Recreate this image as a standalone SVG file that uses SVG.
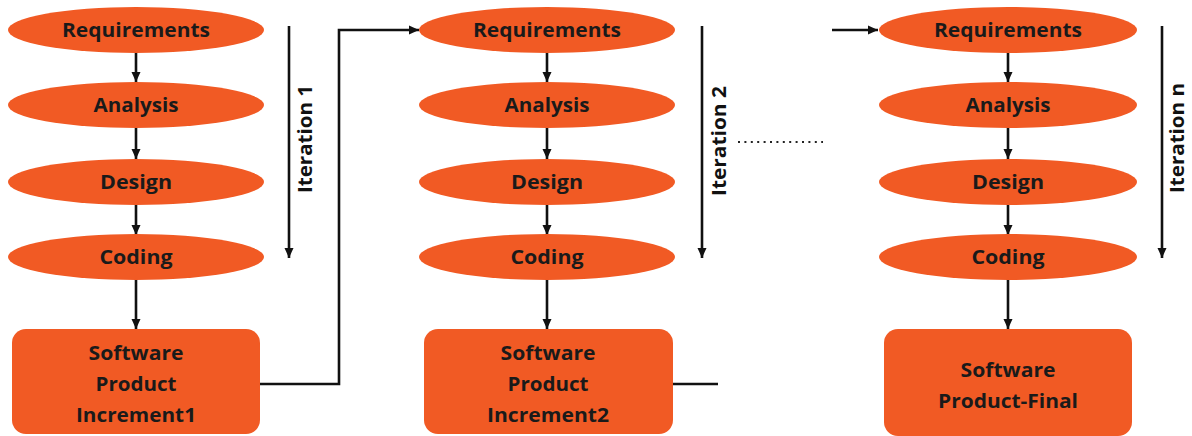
<svg xmlns="http://www.w3.org/2000/svg" width="1192" height="436" viewBox="0 0 1192 436">
<style>
.el{fill:#F15A24;}
.bx{fill:#F15A24;}
.t{font-family:"Open Sans","Liberation Sans",sans-serif;font-weight:700;font-size:20px;fill:#1a1a1a;text-anchor:middle;}
.it{font-family:"Open Sans","Liberation Sans",sans-serif;font-weight:700;font-size:19px;fill:#111;text-anchor:middle;}
.c{stroke:#111;stroke-width:2.6;fill:none;}
.a{marker-end:url(#ah);}
.d{stroke:#222;stroke-width:2;stroke-dasharray:2 4.4;fill:none;}
</style>
<defs>
<marker id="ah" markerUnits="userSpaceOnUse" markerWidth="11" markerHeight="11" refX="10" refY="5.5" orient="auto">
<path d="M0,1 L10,5.5 L0,10 z" fill="#111"/>
</marker>
</defs>
<rect width="1192" height="436" fill="#fff"/>
<g id="connectors">
<line class="c a" x1="136" y1="53" x2="136" y2="82"/>
<line class="c a" x1="136" y1="128" x2="136" y2="159"/>
<line class="c a" x1="136" y1="205" x2="136" y2="235"/>
<line class="c a" x1="136" y1="280" x2="136" y2="329"/>
<line class="c a" x1="289" y1="26" x2="289" y2="258"/>
<polyline class="c a" points="260,384 339,384 339,30 419,30"/>
<line class="c a" x1="547" y1="53" x2="547" y2="82"/>
<line class="c a" x1="547" y1="128" x2="547" y2="159"/>
<line class="c a" x1="547" y1="205" x2="547" y2="235"/>
<line class="c a" x1="547" y1="280" x2="547" y2="329"/>
<line class="c a" x1="702" y1="26" x2="702" y2="258"/>
<line class="c" x1="673" y1="384" x2="718" y2="384"/>
<line class="d" x1="738" y1="142" x2="823" y2="142"/>
<line class="c a" x1="832" y1="30" x2="878" y2="30"/>
<line class="c a" x1="1008" y1="53" x2="1008" y2="82"/>
<line class="c a" x1="1008" y1="128" x2="1008" y2="159"/>
<line class="c a" x1="1008" y1="205" x2="1008" y2="235"/>
<line class="c a" x1="1008" y1="280" x2="1008" y2="329"/>
<line class="c a" x1="1162" y1="26" x2="1162" y2="258"/>
</g>
<g id="iter1-label"><text class="it" transform="translate(312,139) rotate(-90)" textLength="108" lengthAdjust="spacingAndGlyphs">Iteration 1</text></g>
<g id="iter2-label"><text class="it" transform="translate(726,141) rotate(-90)" textLength="110" lengthAdjust="spacingAndGlyphs">Iteration 2</text></g>
<g id="itern-label"><text class="it" transform="translate(1184,138) rotate(-90)" textLength="110" lengthAdjust="spacingAndGlyphs">Iteration n</text></g>

<g id="req1"><ellipse class="el" cx="136" cy="30" rx="128" ry="23"/><text class="t" x="136" y="37" textLength="148" lengthAdjust="spacingAndGlyphs">Requirements</text></g>
<g id="ana1"><ellipse class="el" cx="136" cy="105" rx="128" ry="23"/><text class="t" x="136" y="112" textLength="85" lengthAdjust="spacingAndGlyphs">Analysis</text></g>
<g id="des1"><ellipse class="el" cx="136" cy="182" rx="128" ry="23"/><text class="t" x="136" y="189" textLength="72" lengthAdjust="spacingAndGlyphs">Design</text></g>
<g id="cod1"><ellipse class="el" cx="136" cy="257" rx="128" ry="23"/><text class="t" x="136" y="264" textLength="73" lengthAdjust="spacingAndGlyphs">Coding</text></g>
<g id="prod1"><rect class="bx" x="12" y="329" width="248" height="105" rx="14"/>
<text class="t" x="136" y="360" textLength="95" lengthAdjust="spacingAndGlyphs">Software</text>
<text class="t" x="136" y="391" textLength="81" lengthAdjust="spacingAndGlyphs">Product</text>
<text class="t" x="136" y="422" textLength="120" lengthAdjust="spacingAndGlyphs">Increment1</text></g>

<g id="req2"><ellipse class="el" cx="547" cy="30" rx="128" ry="23"/><text class="t" x="547" y="37" textLength="148" lengthAdjust="spacingAndGlyphs">Requirements</text></g>
<g id="ana2"><ellipse class="el" cx="547" cy="105" rx="128" ry="23"/><text class="t" x="547" y="112" textLength="85" lengthAdjust="spacingAndGlyphs">Analysis</text></g>
<g id="des2"><ellipse class="el" cx="547" cy="182" rx="128" ry="23"/><text class="t" x="547" y="189" textLength="72" lengthAdjust="spacingAndGlyphs">Design</text></g>
<g id="cod2"><ellipse class="el" cx="547" cy="257" rx="128" ry="23"/><text class="t" x="547" y="264" textLength="73" lengthAdjust="spacingAndGlyphs">Coding</text></g>
<g id="prod2"><rect class="bx" x="424" y="329" width="249" height="105" rx="14"/>
<text class="t" x="548" y="360" textLength="95" lengthAdjust="spacingAndGlyphs">Software</text>
<text class="t" x="548" y="391" textLength="81" lengthAdjust="spacingAndGlyphs">Product</text>
<text class="t" x="548" y="422" textLength="122" lengthAdjust="spacingAndGlyphs">Increment2</text></g>

<g id="req3"><ellipse class="el" cx="1008" cy="30" rx="129" ry="23"/><text class="t" x="1008" y="37" textLength="148" lengthAdjust="spacingAndGlyphs">Requirements</text></g>
<g id="ana3"><ellipse class="el" cx="1008" cy="105" rx="129" ry="23"/><text class="t" x="1008" y="112" textLength="85" lengthAdjust="spacingAndGlyphs">Analysis</text></g>
<g id="des3"><ellipse class="el" cx="1008" cy="182" rx="129" ry="23"/><text class="t" x="1008" y="189" textLength="72" lengthAdjust="spacingAndGlyphs">Design</text></g>
<g id="cod3"><ellipse class="el" cx="1008" cy="257" rx="129" ry="23"/><text class="t" x="1008" y="264" textLength="73" lengthAdjust="spacingAndGlyphs">Coding</text></g>
<g id="prod3"><rect class="bx" x="884" y="329" width="248" height="107" rx="14"/>
<text class="t" x="1008" y="377" textLength="95" lengthAdjust="spacingAndGlyphs">Software</text>
<text class="t" x="1008" y="408" textLength="140" lengthAdjust="spacingAndGlyphs">Product-Final</text></g>
</svg>
